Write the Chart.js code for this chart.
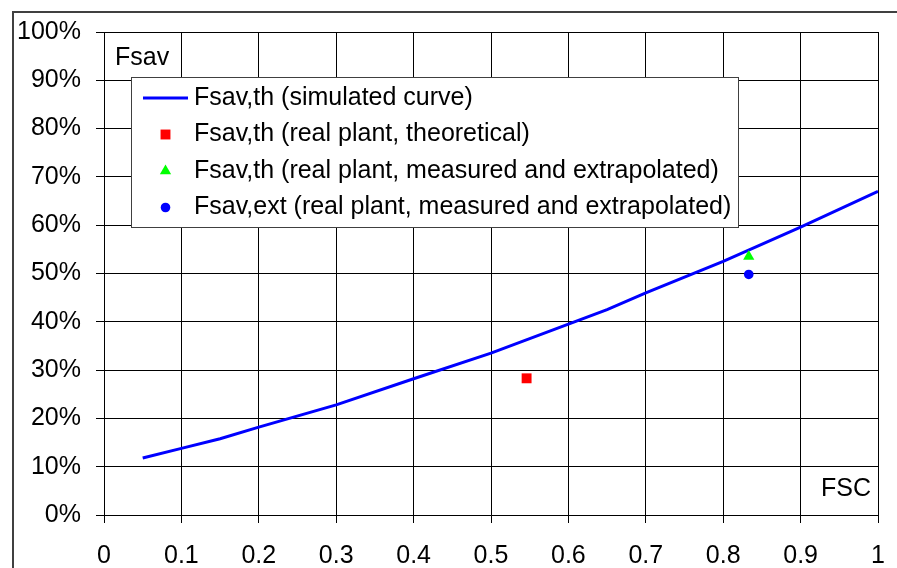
<!DOCTYPE html>
<html>
<head>
<meta charset="utf-8">
<script src="https://cdn.jsdelivr.net/npm/chart.js@4.4.0/dist/chart.umd.min.js"></script>
<style>
  html, body { margin: 0; padding: 0; background: #fff; }
  #wrap { width: 897px; height: 568px; position: relative; }
</style>
</head>
<body>
<div id="wrap"><canvas id="c" width="897" height="568"></canvas></div>
<script>
// ---- data ----
const curveX = [0.05, 0.1, 0.15, 0.2, 0.3, 0.4, 0.5, 0.6, 0.65, 0.7, 0.8, 0.9, 1.0];
const curveY = [11.8, 13.8, 15.8, 18.2, 22.8, 28.2, 33.5, 39.5, 42.5, 46.0, 52.5, 59.6, 67.0];
const theoX = [0.546];
const theoY = [28.3];
const measX = [0.833];
const measY = [53.5];
const extX = [0.833];
const extY = [49.8];
const seriesLabels = [
  'Fsav,th (simulated curve)',
  'Fsav,th (real plant, theoretical)',
  'Fsav,th (real plant, measured and extrapolated)',
  'Fsav,ext (real plant, measured and extrapolated)'
];
const xTicks = [0, 0.1, 0.2, 0.3, 0.4, 0.5, 0.6, 0.7, 0.8, 0.9, 1];
const yTicks = [0, 10, 20, 30, 40, 50, 60, 70, 80, 90, 100];
const yAxisTitle = 'Fsav';
const xAxisTitle = 'FSC';

const FONT = '"Liberation Sans", Arial, sans-serif';
const FS = 25;
const pts = (xs, ys) => xs.map((x, i) => ({x, y: ys[i]}));

const datasets = [
  { label: seriesLabels[0], data: pts(curveX, curveY), showLine: true, borderColor: '#0000ff',
    backgroundColor: '#0000ff', borderWidth: 3, pointRadius: 0, tension: 0, order: 4 },
  { label: seriesLabels[1], data: pts(theoX, theoY), pointStyle: 'rect', pointRadius: 7,
    backgroundColor: '#ff0000', borderColor: '#ff0000', borderWidth: 0, order: 3 },
  { label: seriesLabels[2], data: pts(measX, measY), pointStyle: 'triangle', pointRadius: 6.5,
    backgroundColor: '#00ff00', borderColor: '#00ff00', borderWidth: 0, order: 2 },
  { label: seriesLabels[3], data: pts(extX, extY), pointStyle: 'circle', pointRadius: 4.8,
    backgroundColor: '#0000ff', borderColor: '#0000ff', borderWidth: 0, order: 1 }
];

const decorPlugin = {
  id: 'decor',
  beforeDraw(chart) {
    const ctx = chart.ctx;
    ctx.save();
    ctx.fillStyle = '#fff';
    ctx.fillRect(0, 0, chart.width, chart.height);
    ctx.strokeStyle = '#404040';
    ctx.lineWidth = 2;
    ctx.strokeRect(13, 12, chart.width + 20, chart.height + 20);
    ctx.restore();
  },
  afterDraw(chart) {
    const ctx = chart.ctx;
    const a = chart.chartArea;
    ctx.save();
    ctx.fillStyle = '#000';
    ctx.font = FS + 'px ' + FONT;
    ctx.textBaseline = 'middle';
    ctx.textAlign = 'left';
    ctx.fillText(yAxisTitle, a.left + 11, a.top + 26);
    ctx.textAlign = 'right';
    ctx.fillText(xAxisTitle, a.right - 7, a.bottom - 26);

    // legend
    const lx = 131.5, ly = 77.5, lw = 607, lh = 150;
    ctx.fillStyle = '#fff';
    ctx.fillRect(lx, ly, lw, lh);
    ctx.strokeStyle = '#404040';
    ctx.lineWidth = 1;
    ctx.strokeRect(lx, ly, lw, lh);
    const rowY = [98, 134.5, 171, 207.5];
    const symX = 165.5, textX = 194;
    chart.data.datasets.forEach((ds, i) => {
      const y = rowY[i];
      if (i === 0) {
        ctx.strokeStyle = ds.borderColor;
        ctx.lineWidth = 3;
        ctx.beginPath();
        ctx.moveTo(143, y);
        ctx.lineTo(188, y);
        ctx.stroke();
      } else {
        ctx.fillStyle = ds.backgroundColor;
        ctx.strokeStyle = ds.borderColor;
        ctx.lineWidth = 0;
        Chart.helpers.drawPoint(ctx, { pointStyle: ds.pointStyle, radius: ds.pointRadius, borderWidth: 0, rotation: 0 }, symX, y);
      }
      ctx.fillStyle = '#000';
      ctx.textAlign = 'left';
      ctx.textBaseline = 'middle';
      ctx.font = FS + 'px ' + FONT;
      ctx.fillText(ds.label, textX, y);
    });
    ctx.restore();
  }
};

new Chart(document.getElementById('c'), {
  type: 'scatter',
  data: { datasets },
  options: {
    responsive: false,
    animation: false,
    devicePixelRatio: 1,
    layout: { padding: { left: 0, top: 32, right: 19, bottom: 0 } },
    plugins: { legend: { display: false }, tooltip: { enabled: false } },
    scales: {
      x: {
        type: 'linear', min: 0, max: 1,
        afterBuildTicks(s) { s.ticks = xTicks.map(v => ({ value: v })); },
        afterFit(s) { s.height = 53; s.paddingLeft = 0; s.paddingRight = 0; },
        grid: { color: '#000', lineWidth: 1, tickLength: 8, drawTicks: true },
        border: { color: '#000', width: 1 },
        ticks: { color: '#000', font: { family: FONT, size: FS }, padding: 18, maxRotation: 0,
                 callback: v => String(v) }
      },
      y: {
        type: 'linear', min: 0, max: 100,
        afterBuildTicks(s) { s.ticks = yTicks.map(v => ({ value: v })); },
        afterFit(s) { s.width = 104; s.paddingTop = 0; s.paddingBottom = 0; },
        grid: { color: '#000', lineWidth: 1, tickLength: 8, drawTicks: true },
        border: { color: '#000', width: 1 },
        ticks: { color: '#000', font: { family: FONT, size: FS }, padding: 15,
                 callback: v => v + '%' }
      }
    }
  },
  plugins: [decorPlugin]
});
</script>
</body>
</html>
